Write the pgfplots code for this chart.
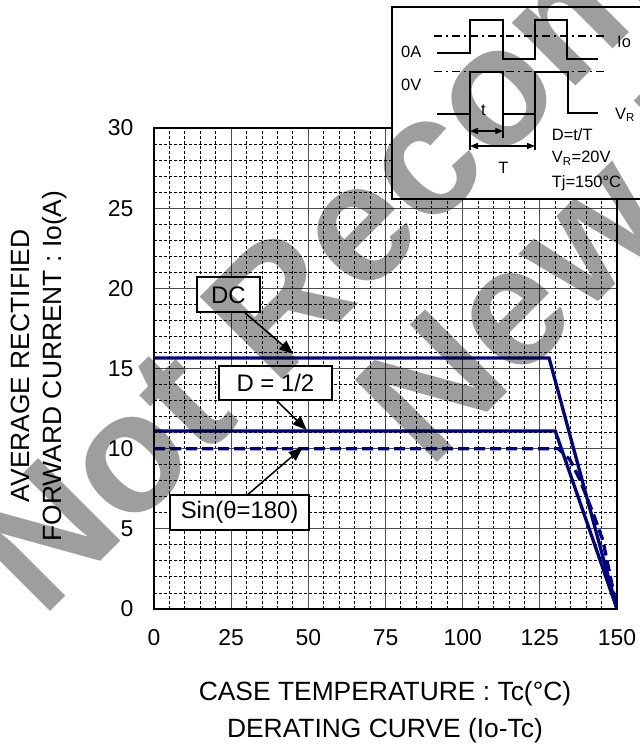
\documentclass[border=0pt]{standalone}
\usepackage{pgfplots}
\pgfplotsset{compat=1.18}
\usepackage{fontspec}
\setmainfont{Liberation Sans}
\usetikzlibrary{arrows.meta}
\definecolor{curve}{RGB}{0,0,128}
\definecolor{wmark}{RGB}{158,158,158}
\newcommand{\fs}[1]{\fontsize{#1}{#1}\selectfont}
\begin{document}
\begin{tikzpicture}[x=1bp, y=1bp]
\useasboundingbox (-154,-135) rectangle (486,609);
\begin{axis}[
    at={(0,0)}, anchor=south west,
    scale only axis,
    width=463bp, height=481bp,
    xmin=0, xmax=150, ymin=0, ymax=30,
    xtick={0,25,...,150}, ytick={0,5,...,30},
    minor xtick={5,10,15,20,30,35,40,45,55,60,65,70,80,85,90,95,105,110,115,120,130,135,140,145},
    minor ytick={1,2,3,4,6,7,8,9,11,12,13,14,16,17,18,19,21,22,23,24,26,27,28,29},
    grid=both,
    major grid style={black!70, line width=1bp},
    minor grid style={black, line width=0.9bp, dash pattern=on 3bp off 2bp},
    major tick length=0pt, minor tick length=0pt,
    axis line style={line width=2.2bp},
    /pgf/number format/assume math mode=true,
    ticklabel style={font=\fs{23}},
    xticklabel style={yshift=-17bp},
    yticklabel style={xshift=-17bp},
]
% DC
\addplot[curve, line width=3.3bp] coordinates {(0,15.65) (128,15.65) (150,0)};
% D = 1/2
\addplot[curve, line width=3.3bp] coordinates {(0,11.1) (130,11.1) (150,0)};
% Sin(theta=180)
\addplot[curve, line width=3.3bp, dash pattern=on 11bp off 5bp] coordinates {
    (0,10) (131,10) (134.8,9.3) (138,8.05) (142.2,6.0) (145.4,4.3) (150,0)};
\end{axis}

% axis titles
\node[rotate=90, anchor=base, font=\fs{26.5}] at (-124,243) {AVERAGE RECTIFIED};
\node[rotate=90, anchor=base, font=\fs{26.5}] at (-92,243) {FORWARD CURRENT : Io(A)};
\node[anchor=base, font=\fs{26.5}] at (231,-91) {CASE TEMPERATURE : Tc(°C)};
\node[anchor=base, font=\fs{26.5}] at (231,-128) {DERATING CURVE (Io-Tc)};

% curve labels
\draw[line width=1.5bp, -{Triangle[length=14bp, width=11bp]}] (91,296) -- (139.3,255);
\draw[line width=1.5bp, -{Triangle[length=14bp, width=11bp]}] (122,209) -- (152.7,179);
\draw[line width=1.5bp, -{Triangle[length=14bp, width=11bp]}] (93.3,114) -- (148.7,161.7);
\draw[line width=2bp, fill=white] (42.7,296.7) rectangle (106,331.7);
\node[font=\fs{24}] at (74.3,314.2) {DC};
\draw[line width=2bp, fill=white] (65.3,209) rectangle (177.5,243);
\node[font=\fs{24}] at (121.4,226) {D = 1/2};
\draw[line width=2bp, fill=white] (16,79) rectangle (155.3,114);
\node[font=\fs{24}] at (85.6,96.5) {Sin(θ=180)};

% inset with the waveforms
\begin{scope}
\clip (-154,-135) rectangle (486,609);
\draw[line width=2bp, fill=white] (238,410) rectangle (500,602);
\end{scope}
\draw[line width=1.5bp, dash pattern=on 8bp off 4bp on 2bp off 4bp] (280,573) -- (451,573);
\draw[line width=1.5bp, dash pattern=on 8bp off 4bp on 2bp off 4bp] (280,537.3) -- (451,537.3);
\draw[line width=2bp] (282.7,556.3) -- (316,556.3) -- (316,589) -- (349.3,589) -- (349.3,549.7)
    -- (381,549.7) -- (381,589) -- (413.3,589) -- (413.3,549.7) -- (444.3,549.7);
\draw[line width=2bp] (283.3,495) -- (316,495) -- (316,537.3) -- (349.3,537.3) -- (349.3,495)
    -- (381,495) -- (381,537.3) -- (414.3,537.3) -- (414.3,496) -- (444.3,496);
\draw[line width=2bp] (316,534) -- (316,459);
\draw[line width=2bp] (349.3,534) -- (349.3,471);
\draw[line width=2bp] (381,537) -- (381,459);
\draw[line width=1.5bp, {Triangle[length=8bp, width=6bp]}-{Triangle[length=8bp, width=6bp]}] (316,478) -- (349.3,478);
\draw[line width=1.5bp, {Triangle[length=8bp, width=6bp]}-{Triangle[length=8bp, width=6bp]}] (316,463) -- (381,463);
\node[font=\fs{16.5}, anchor=west, inner sep=0pt] at (247,557.3) {0A};
\node[font=\fs{16.5}, anchor=west, inner sep=0pt] at (247,524) {0V};
\node[font=\fs{16.5}, anchor=west, inner sep=0pt] at (463,567) {Io};
\node[font=\fs{16.5}, anchor=west, inner sep=0pt] at (461,494) {V\textsubscript{R}};
\node[font=\fs{16.5}] at (329.3,499) {t};
\node[font=\fs{16.5}] at (349.3,440.7) {T};
\node[font=\fs{16.5}, anchor=west, inner sep=0pt] at (397.7,474) {D=t/T};
\node[font=\fs{16.5}, anchor=west, inner sep=0pt] at (397.7,450.7) {V\textsubscript{R}=20V};
\node[font=\fs{16.5}, anchor=west, inner sep=0pt] at (397.7,425.7) {Tj=150°C};

% watermark
\begin{scope}[blend mode=multiply]
\node[rotate=45, anchor=base west, inner sep=0pt, text=wmark, font=\fs{170}\bfseries] at (-112,-11) {Not Recommended};
\node[rotate=45, anchor=base west, inner sep=0pt, text=wmark, font=\fs{170}\bfseries] at (275,138) {New Design};
\end{scope}
\end{tikzpicture}
\end{document}
